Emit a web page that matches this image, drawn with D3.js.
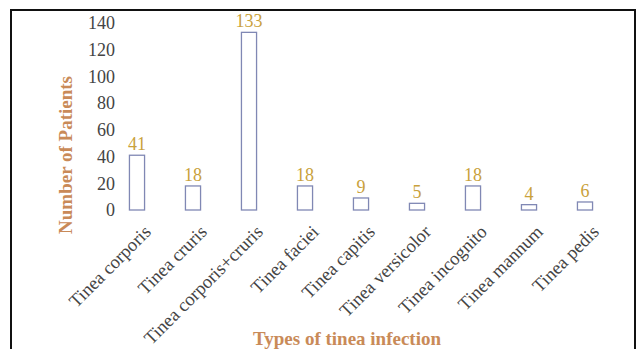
<!DOCTYPE html>
<html><head><meta charset="utf-8">
<script src="https://cdn.jsdelivr.net/npm/d3@7"></script>
<style>html,body{margin:0;padding:0;background:#fff;}svg{display:block;}</style>
</head><body>
<svg id="chart" width="638" height="349"></svg>
<script>
const categories = ["Tinea corporis","Tinea cruris","Tinea corporis+cruris","Tinea faciei","Tinea capitis","Tinea versicolor","Tinea incognito","Tinea mannum","Tinea pedis"];
const values = [41,18,133,18,9,5,18,4,6];
const yTicks = [0,20,40,60,80,100,120,140];
const xTitle = "Types of tinea infection";
const yTitle = "Number of Patients";

const svg = d3.select("#chart");
const font = "'Liberation Serif','Times New Roman',serif";

svg.append("rect").attr("x",11).attr("y",10).attr("width",624).attr("height",380)
  .attr("fill","none").attr("stroke","#111").attr("stroke-width",2);

const x = d3.scaleBand().domain(categories).range([109,613]).paddingInner(0.73).paddingOuter(0.365);
const y = d3.scaleLinear().domain([0,140]).range([210,23]);

const yAxis = svg.append("g").attr("transform","translate(117,0)")
  .call(d3.axisLeft(y).tickValues(yTicks).tickSize(0).tickPadding(2));
yAxis.select(".domain").remove();
yAxis.selectAll("text").attr("font-family",font).attr("font-size",18).attr("fill","#444");

svg.append("g").selectAll("rect").data(values).join("rect")
  .attr("x",(d,i)=>x(categories[i]))
  .attr("y",d=>y(d))
  .attr("width",x.bandwidth())
  .attr("height",d=>y(0)-y(d))
  .attr("fill","#fff").attr("stroke","#8088b4").attr("stroke-width",1.3);

svg.append("g").selectAll("text").data(values).join("text")
  .attr("x",(d,i)=>x(categories[i])+x.bandwidth()/2)
  .attr("y",d=>y(d)-5)
  .attr("text-anchor","middle")
  .attr("font-family",font).attr("font-size",18).attr("fill","#c9a13c")
  .text(d=>d);

const xAxis = svg.append("g").attr("transform","translate(0,210)")
  .call(d3.axisBottom(x).tickSize(0).tickPadding(0));
xAxis.select(".domain").remove();
xAxis.selectAll("text")
  .attr("font-family",font).attr("font-size",18.5).attr("fill","#444")
  .attr("text-anchor","end")
  .attr("dy",null)
  .attr("transform","translate(15,23) rotate(-45)");

svg.append("text").attr("x",347).attr("y",345).attr("text-anchor","middle")
  .attr("font-family",font).attr("font-size",19).attr("font-weight","bold").attr("fill","#c98a58")
  .text(xTitle);

svg.append("text").attr("transform","translate(72,155) rotate(-90)").attr("text-anchor","middle")
  .attr("font-family",font).attr("font-size",19).attr("font-weight","bold").attr("fill","#c98a58")
  .text(yTitle);
</script>
</body></html>
